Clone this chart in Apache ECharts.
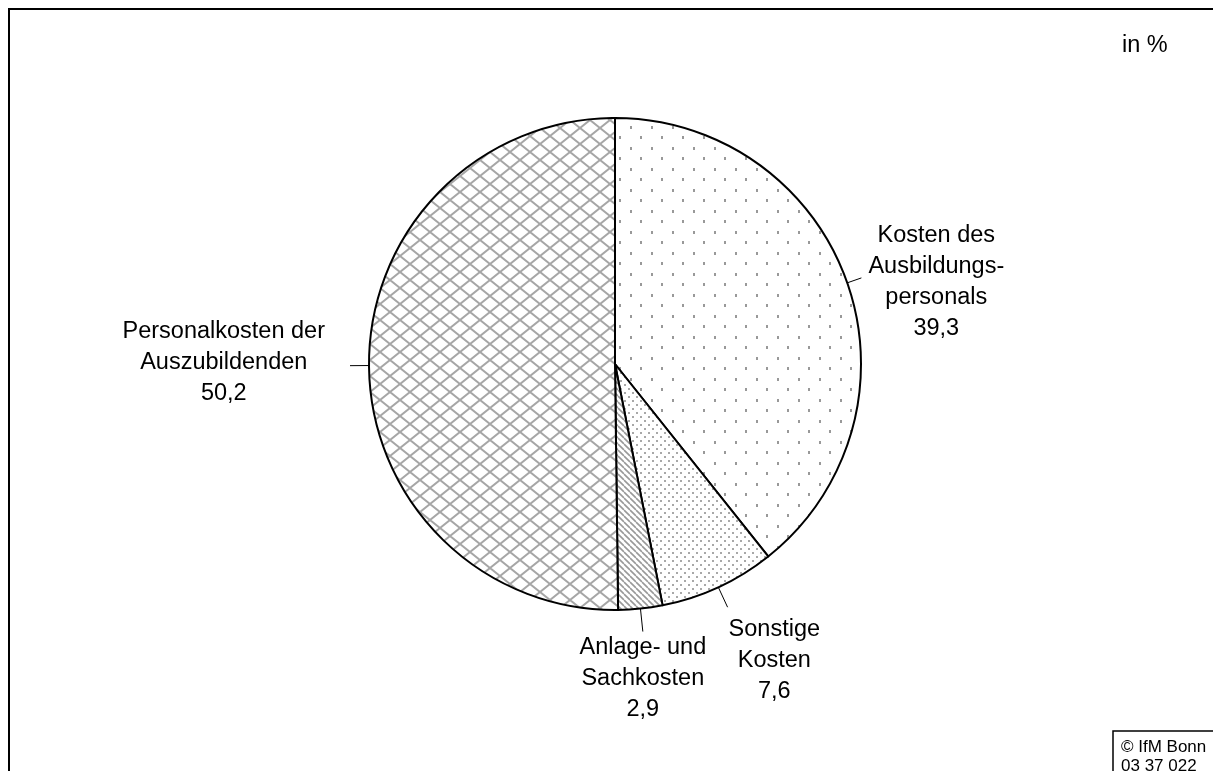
<!DOCTYPE html>
<html><head><meta charset="utf-8">
<script src="https://cdn.jsdelivr.net/npm/echarts@6/dist/echarts.min.js"></script>
<style>html,body{margin:0;padding:0;background:#fff}#c{width:1213px;height:771px}</style>
</head><body><div id="c"></div>
<script>
// ---- data ----
const categories = ['Kosten des\nAusbildungs-\npersonals', 'Sonstige\nKosten', 'Anlage- und\nSachkosten', 'Personalkosten der\nAuszubildenden'];
const values = [39.3, 7.6, 2.9, 50.2];
const unitLabel = 'in %';
const sourceLines = ['© IfM Bonn', '03 37 022'];

// ---- styles ----
const FONT = 'Arial, "Liberation Sans", sans-serif';
const lineLengths = [15, 22, 23, 19];
const labelDistances = [7, 1, 0, 25];
const labelPaddings = [[8, 0, 0, 0], [7, 0, 0, 0], [0, 0, 0, 0], [0, 0, 6, 0]];

function makePattern(w, h, draw) {
  const c = document.createElement('canvas');
  c.width = w; c.height = h;
  const g = c.getContext('2d');
  g.fillStyle = '#fff'; g.fillRect(0, 0, w, h);
  draw(g, w, h);
  return { image: c, repeat: 'repeat' };
}
const patterns = [
  makePattern(21, 21, g => { g.fillStyle = '#999'; g.fillRect(0, 0, 2, 3); g.fillRect(10, 10, 2, 3); }),
  makePattern(8, 8, g => { g.fillStyle = '#a8a8a8'; g.fillRect(0, 0, 2, 2); g.fillRect(4, 4, 2, 2); }),
  makePattern(6, 6, (g, w, h) => {
    g.strokeStyle = '#999'; g.lineWidth = 1.6; g.beginPath();
    for (let k = -1; k <= 1; k++) { g.moveTo(k * w, 0); g.lineTo(k * w + w, h); }
    g.stroke();
  }),
  makePattern(20, 16, (g, w, h) => {
    g.strokeStyle = '#a6a6a6'; g.lineWidth = 2; g.beginPath();
    for (let k = -1; k <= 1; k++) {
      g.moveTo(k * w, 0); g.lineTo(k * w + w, h);
      g.moveTo(k * w, h); g.lineTo(k * w + w, 0);
    }
    g.stroke();
  })
];

const chart = echarts.init(document.getElementById('c'), null, { renderer: 'canvas' });
const seriesData = categories.map((name, i) => ({
  name, value: values[i],
  itemStyle: { color: patterns[i] },
  labelLine: { length: lineLengths[i], length2: 0 },
  label: { distanceToLabelLine: labelDistances[i], padding: labelPaddings[i] }
}));

chart.setOption({
  animation: false,
  backgroundColor: '#fff',
  series: [{
    type: 'pie',
    center: [615, 364],
    radius: 246,
    startAngle: 90,
    clockwise: true,
    avoidLabelOverlap: false,
    itemStyle: { borderColor: '#000', borderWidth: 2 },
    emphasis: { disabled: true },
    label: {
      show: true, position: 'outside', color: '#000',
      formatter: p => p.name.split('\n').map(s => '{c|' + s + '}').join('\n') +
        '\n{c|' + p.value.toFixed(1).replace('.', ',') + '}',
      rich: { c: { align: 'center', fontSize: 23.5, lineHeight: 31, fontFamily: FONT, color: '#000' } }
    },
    labelLine: { show: true, lineStyle: { color: '#000', width: 1 } },
    labelLayout: p => {
      if (p.dataIndex === 1) return { verticalAlign: 'top' };
      if (p.dataIndex === 2) return { align: 'center', verticalAlign: 'top' };
      return {};
    },
    data: seriesData
  }],
  graphic: [
    { type: 'rect', shape: { x: 9, y: 9, width: 1400, height: 1000 }, style: { fill: null, stroke: '#000', lineWidth: 2 }, silent: true },
    { type: 'text', x: 1122, y: 34, style: { text: unitLabel, font: '23.5px ' + FONT, fill: '#000' } },
    { type: 'rect', shape: { x: 1113, y: 731, width: 300, height: 200 }, style: { fill: '#fff', stroke: '#000', lineWidth: 1.5 } },
    { type: 'text', x: 1121, y: 738, style: { text: sourceLines.join('\n'), font: '17px ' + FONT, lineHeight: 19, fill: '#000' } }
  ]
});
</script></body></html>
